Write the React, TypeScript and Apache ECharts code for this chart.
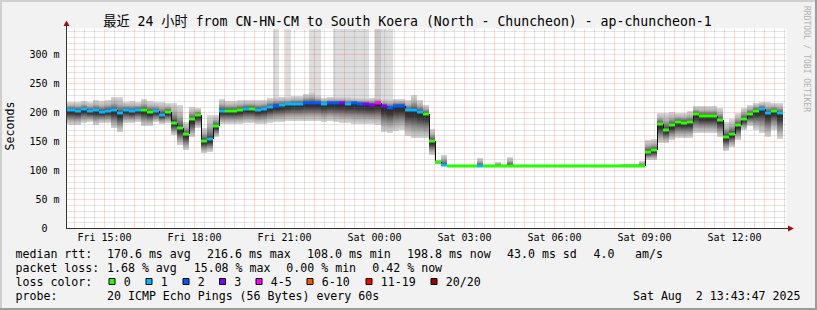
import React, { useEffect, useRef } from 'react';
import * as echarts from 'echarts';

const TITLE = '最近 24 小时 from CN-HN-CM to South Koera (North - Chuncheon) - ap-chuncheon-1';
const START_MIN = 824; // Fri 13:44, minutes since Fri 00:00
const END_MIN = 2264; // Sat 13:44
const BIN_START = 816;
const BIN_MIN = 12;
const Y_MAX = 345;

const medianMs = [
  204, 204.7, 203.4, 206.2, 202.9, 204, 201.7, 203.4, 204, 199,
  204.7, 202.4, 204.7, 204.7, 201.2, 202.4, 196.6, 201.2, 182.8, 173,
  163.3, 188.6, 195.5, 151.7, 154, 177, 203.4, 203.4, 203.4, 204.7,
  206.9, 207, 205, 206.5, 210, 212, 213, 214, 215, 215,
  216.6, 216.6, 216.6, 215, 216, 216, 216.5, 215, 216, 215,
  214, 213, 216, 210.5, 208, 211.5, 211.5, 204, 204.5, 201,
  198, 151, 114.5, 110.4, 108, 108, 108, 108, 108, 108,
  108, 108, 108, 108, 108, 108, 108, 108, 108, 108,
  108, 108, 108, 108, 108, 108, 108, 108, 108, 108,
  108, 108, 108, 108, 108, 108, 108, 132.8, 135.2, 180,
  170.7, 178.2, 184, 182.8, 183.4, 197.2, 193.8, 193.8, 193.8, 187.4,
  158.6, 163.8, 178.2, 189.7, 197.8, 203.4, 206.9, 199.5, 202.9, 198.8,
];

const lossIdx = [
  1, 1, 1, 1, 1, 1, 1, 1, 1, 1,
  1, 1, 1, 0, 0, 1, 1, 0, 0, 0,
  0, 0, 0, 0, 1, 0, 1, 0, 0, 0,
  1, 0, 1, 1, 1, 2, 1, 1, 1, 1,
  2, 2, 2, 1, 2, 2, 3, 1, 2, 2,
  3, 3, 4, 3, 2, 2, 2, 1, 1, 1,
  0, 0, 0, 1, 0, 0, 0, 0, 0, 1,
  0, 0, 0, 0, 0, 0, 0, 0, 0, 0,
  0, 0, 0, 0, 0, 0, 0, 0, 0, 0,
  0, 0, 0, 0, 0, 0, 0, 0, 0, 0,
  0, 0, 0, 0, 0, 0, 0, 0, 0, 0,
  0, 0, 0, 0, 0, 0, 1, 1, 0, 1,
];

const smokeHi = [
  219, 219, 219, 220, 219, 222, 220, 221, 226, 227,
  219, 220, 218, 224, 220, 219, 218, 216, 216, 213,
  184.5, 210, 207.6, 174, 196, 196, 224, 220, 220, 221,
  222, 222, 221, 222, 225, 226, 226, 227, 228, 228,
  232, 236, 230, 225, 226, 226, 226, 226, 225, 225,
  225, 225, 226, 224, 223, 224, 224, 222, 230, 221,
  213, 172, 118, 127, 109.5, 109.5, 109.5, 109.5, 109.5, 121,
  109.5, 109.5, 115, 109.5, 124, 109.5, 109.5, 109.5, 109.5, 109.5,
  109.5, 109.5, 109.5, 109.5, 109.5, 109.5, 109.5, 109.5, 109.5, 109.5,
  109.5, 109.5, 109.5, 110.5, 110.5, 112, 116, 153, 154, 200,
  200, 201, 200, 199, 203, 211.6, 211.6, 211.6, 211.6, 207.6,
  184.5, 188.6, 199, 207.6, 213.3, 217, 218.4, 218.4, 217, 217,
];

const smokeLo = [
  180, 179, 179, 182, 184, 178, 182, 182, 173, 167,
  182, 182, 184, 176, 176, 184, 181, 182, 161.5, 144,
  135.7, 158.6, 173, 130, 132.8, 158.6, 180, 180, 181, 180,
  182, 182, 180, 181, 182, 183, 184, 185, 185, 186,
  186, 186, 186, 184, 185, 184, 182, 182, 180, 180,
  180, 180, 178, 166, 165, 168, 170, 160, 156, 156,
  156, 127, 111, 109, 107.2, 107.2, 107.2, 107.2, 107.2, 107.2,
  107.2, 107.2, 107.2, 107.2, 107.2, 107.2, 107.2, 107.2, 107.2, 107.2,
  107.2, 107.2, 107.2, 107.2, 107.2, 107.2, 107.2, 107.2, 107.2, 107.2,
  107.2, 107.2, 107.2, 107.2, 107.2, 107.2, 107.2, 118, 118, 147,
  147, 153, 156, 156, 156, 164.5, 164.5, 164.5, 164.5, 158.6,
  134, 141.4, 153, 170, 176, 170, 164.5, 158.6, 170, 155,
];

// bins whose highest pings go off the top of the chart
const spikeBins = [35, 37, 41, 42, 45, 46, 47, 48, 49, 50, 52, 53, 54];
const spikeTop = [360, 360, 360, 360, 360, 360, 360, 360, 360, 360, 360, 360, 360];
const spikeCount = [1, 1, 1, 1, 1, 1, 1, 1, 1, 1, 2, 1, 1];

const lossLabels = ['0', '1', '2', '3', '4-5', '6-10', '11-19', '20/20'];
const lossColors = ['#26ff00', '#00b8ff', '#0059ff', '#7e00ff', '#ff00ff', '#ff5500', '#ff0000', '#a10000'];

const xTickValues = [900, 1080, 1260, 1440, 1620, 1800, 1980, 2160];
const yTickValues = [0, 50, 100, 150, 200, 250, 300];

const rttLabel = 'median rtt:';
const rttItems = ['170.6 ms avg', '216.6 ms max', '108.0 ms min', '198.8 ms now', '43.0 ms sd', '4.0', 'am/s'];
const lossLabel = 'packet loss:';
const lossItems = ['1.68 % avg', '15.08 % max', '0.00 % min', '0.42 % now'];
const lossColorLabel = 'loss color:';
const probeLabel = 'probe:';
const probeText = '20 ICMP Echo Pings (56 Bytes) every 60s';
const dateText = 'Sat Aug\u00a0 2 13:43:47 2025';

const MONO = "'DejaVu Sans Mono', monospace";
const FS = 11.6;

function fmtX(v: number) {
  const day = v < 1440 ? 'Fri' : 'Sat';
  const m = v % 1440;
  const hh = String(Math.floor(m / 60)).padStart(2, '0');
  const mm = String(m % 60).padStart(2, '0');
  return `${day} ${hh}:${mm}`;
}

function txt(text: string, x: number, y: number, extra: any = {}) {
  return {
    type: 'text',
    x,
    y,
    silent: true,
    ...extra,
    style: {
      text,
      fontSize: FS,
      fontFamily: MONO,
      fill: '#000',
      align: 'left',
      textAlign: 'left',
      verticalAlign: 'middle',
      textVerticalAlign: 'middle',
      ...(extra.style || {}),
    },
  };
}

export default function App() {
  const ref = useRef<HTMLDivElement>(null);
  useEffect(() => {
    document.body.style.margin = '0';
    const chart = echarts.init(ref.current!, null, { renderer: 'svg' });
    const n = medianMs.length;
    const binRange = (i: number) => [
      Math.max(BIN_START + i * BIN_MIN, START_MIN),
      Math.min(BIN_START + (i + 1) * BIN_MIN, END_MIN),
    ];

    const gridLines: any[] = [];
    const major = { color: 'rgba(255,0,0,0.3)', type: [1, 1], width: 1 };
    const minor = { color: 'rgba(110,110,110,0.36)', type: [1, 1], width: 1 };
    for (let m = 840; m < END_MIN; m += 20) {
      gridLines.push({ xAxis: m, lineStyle: m % 60 === 0 ? major : minor });
    }
    for (let v = 10; v < Y_MAX; v += 10) {
      gridLines.push({ yAxis: v, lineStyle: v % 50 === 0 ? major : minor });
    }

    const graphics: any[] = [];
    graphics.push({ type: 'rect', shape: { x: 0, y: 0, width: 817, height: 2 }, style: { fill: '#cfcfcf' }, silent: true });
    graphics.push({ type: 'rect', shape: { x: 0, y: 0, width: 2, height: 310 }, style: { fill: '#cfcfcf' }, silent: true });
    graphics.push({ type: 'rect', shape: { x: 0, y: 308, width: 817, height: 2 }, style: { fill: '#9c9c9c' }, silent: true });
    graphics.push({ type: 'rect', shape: { x: 815, y: 0, width: 2, height: 310 }, style: { fill: '#9c9c9c' }, silent: true });
    graphics.push({ type: 'line', shape: { x1: 66.5, y1: 25, x2: 66.5, y2: 29 }, style: { stroke: '#333', lineWidth: 1 }, silent: true });
    graphics.push({ type: 'polygon', shape: { points: [[63.5, 26], [69.5, 26], [66.5, 20.5]] }, style: { fill: '#991111' }, silent: true });
    graphics.push({ type: 'line', shape: { x1: 786, y1: 228.5, x2: 789, y2: 228.5 }, style: { stroke: '#333', lineWidth: 1 }, silent: true });
    graphics.push({ type: 'polygon', shape: { points: [[788, 225.5], [788, 231.5], [794, 228.5]] }, style: { fill: '#991111' }, silent: true });
    graphics.push(txt(TITLE, 407.5, 21.5, { style: { fontSize: 13.2, fontFamily: "'DejaVu Sans Mono', 'Noto Sans CJK SC', monospace", align: 'center', textAlign: 'center' } }));
    graphics.push(txt('Seconds', 10, 126, { rotation: Math.PI / 2, style: { align: 'center', textAlign: 'center' } }));
    graphics.push(txt('RRDTOOL / TOBI OETIKER', 806.5, 59, { rotation: -Math.PI / 2, style: { fontSize: 8, fill: '#b0b0b0', align: 'center', textAlign: 'center' } }));
    const rowY = [254.3, 268.3, 282.3, 296];
    const rttX = [107, 207, 307, 407, 507, 593.5, 635];
    const lossX = [107, 193.7, 286.3, 372.3];
    graphics.push(txt(rttLabel, 15.5, rowY[0]));
    rttItems.forEach((t, k) => graphics.push(txt(t, rttX[k], rowY[0])));
    graphics.push(txt(lossLabel, 15.5, rowY[1]));
    lossItems.forEach((t, k) => graphics.push(txt(t, lossX[k], rowY[1])));
    graphics.push(txt(lossColorLabel, 15.5, rowY[2]));
    const sqX = [109, 146, 183, 219.5, 256, 307, 366, 431];
    lossLabels.forEach((t, k) => {
      graphics.push({ type: 'rect', shape: { x: sqX[k], y: 278.5, width: 6, height: 6 }, style: { fill: lossColors[k], stroke: '#000', lineWidth: 1 }, silent: true });
      graphics.push(txt(t, sqX[k] + 14.8, rowY[2]));
    });
    graphics.push(txt(probeLabel, 15.5, rowY[3]));
    graphics.push(txt(probeText, 107, rowY[3]));
    graphics.push(txt(dateText, 800.5, rowY[3], { style: { align: 'right', textAlign: 'right' } }));

    const option: any = {
      animation: false,
      backgroundColor: '#f2f2f2',
      grid: { left: 66.5, top: 28.5, width: 720, height: 200, show: true, backgroundColor: '#ffffff', borderWidth: 0 },
      xAxis: {
        type: 'value',
        min: START_MIN,
        max: END_MIN,
        splitLine: { show: false },
        axisTick: { show: false },
        axisLine: { show: true, lineStyle: { color: '#333', width: 1 } },
        axisLabel: {
          customValues: xTickValues,
          formatter: (v: number) => fmtX(v),
          fontSize: 10,
          fontFamily: MONO,
          color: '#000',
          margin: 4,
        },
      },
      yAxis: {
        type: 'value',
        min: 0,
        max: Y_MAX,
        splitLine: { show: false },
        axisTick: { show: false },
        axisLine: { show: true, lineStyle: { color: '#333', width: 1 } },
        axisLabel: {
          customValues: yTickValues,
          formatter: (v: number) => (v === 0 ? '0\u00a0\u00a0' : `${v} m`),
          fontSize: 10,
          fontFamily: MONO,
          color: '#000',
          margin: 7,
        },
      },
      graphic: { elements: graphics },
      series: [
        {
          type: 'custom',
          name: 'smoke',
          z: 1,
          silent: true,
          data: medianMs.map((m, i) => [BIN_START + i * BIN_MIN + BIN_MIN / 2, m]),
          encode: { x: 0, y: 1 },
          renderItem: (params: any, api: any) => {
            const i = params.dataIndex;
            const [x0m, x1m] = binRange(i);
            const hi = Math.min(smokeHi[i], Y_MAX);
            const lo = smokeLo[i];
            const a = api.coord([x0m, hi]);
            const b = api.coord([x1m, lo]);
            const x0 = Math.round(a[0]);
            const x1 = Math.round(b[0]);
            const yTop = Math.round(a[1]);
            const yBot = Math.round(b[1]);
            const ym = api.coord([x0m, medianMs[i]])[1];
            let f = (ym - yTop) / Math.max(1, yBot - yTop);
            f = Math.min(0.97, Math.max(0.03, f));
            const g = 1 - f;
            const grad = new echarts.graphic.LinearGradient(0, 0, 0, 1, [
              { offset: 0, color: '#d9d9d9' },
              { offset: f * 0.45, color: '#b2b2b2' },
              { offset: f * 0.82, color: '#6a6a6a' },
              { offset: f, color: '#242424' },
              { offset: f + g * 0.25, color: '#383838' },
              { offset: f + g * 0.55, color: '#858585' },
              { offset: f + g * 0.8, color: '#bababa' },
              { offset: 1, color: '#d6d6d6' },
            ]);
            const children: any[] = [
              { type: 'rect', shape: { x: x0, y: yTop, width: x1 - x0, height: Math.max(1, yBot - yTop) }, style: { fill: grad } },
            ];
            const s = spikeBins.indexOf(i);
            if (s >= 0) {
              const t = api.coord([x0m, Math.min(spikeTop[s], Y_MAX)]);
              const ty = Math.round(t[1]);
              children.push({
                type: 'rect',
                shape: { x: x0, y: ty, width: x1 - x0, height: yTop - ty },
                style: { fill: spikeCount[s] > 1 ? '#c8c8c8' : '#dddddd' },
              });
            }
            return { type: 'group', children };
          },
        },
        {
          type: 'line',
          name: 'grid',
          z: 3,
          silent: true,
          data: [],
          markLine: {
            silent: true,
            z: 3,
            symbol: ['none', 'none'],
            label: { show: false },
            animation: false,
            data: gridLines,
          },
        },
        {
          type: 'custom',
          name: 'median',
          z: 6,
          silent: true,
          data: medianMs.map((m, i) => [BIN_START + i * BIN_MIN + BIN_MIN / 2, m]),
          encode: { x: 0, y: 1 },
          renderItem: (params: any, api: any) => {
            const i = params.dataIndex;
            const [x0m, x1m] = binRange(i);
            const a = api.coord([x0m, medianMs[i]]);
            const b = api.coord([x1m, medianMs[i]]);
            const x0 = Math.round(a[0]);
            const x1 = Math.round(b[0]);
            const y = Math.round(a[1]);
            const children: any[] = [];
            if (i < n - 1) {
              const yn = Math.round(api.coord([x1m, medianMs[i + 1]])[1]);
              children.push({
                type: 'line',
                shape: { x1: x1 + 0.5, y1: y, x2: x1 + 0.5, y2: yn },
                style: { stroke: '#111', lineWidth: 1 },
              });
            }
            children.push({
              type: 'rect',
              shape: { x: x0, y: y - 1.5, width: x1 - x0, height: 3 },
              style: { fill: lossColors[lossIdx[i]] },
            });
            return { type: 'group', children };
          },
        },
      ],
    };
    chart.setOption(option);
    return () => chart.dispose();
  }, []);
  return <div ref={ref} style={{ width: 817, height: 310 }} />;
}
